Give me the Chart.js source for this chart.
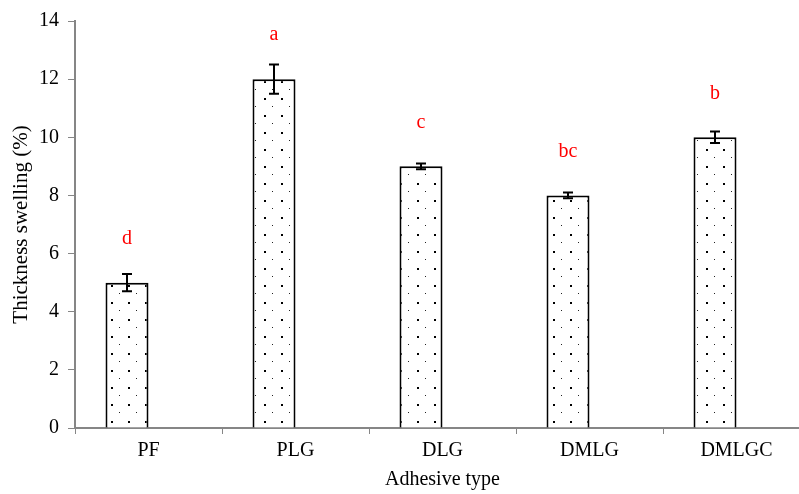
<!DOCTYPE html>
<html>
<head>
<meta charset="utf-8">
<script src="https://cdn.jsdelivr.net/npm/chart.js@4/dist/chart.umd.min.js"></script>
<style>
    html, body { margin: 0; padding: 0; background: #fff; overflow: hidden; }
    #wrap { width: 810px; height: 494px; }
</style>
</head>
<body>
<div id="wrap"><canvas id="swellingChart" width="810" height="494"></canvas></div>
<script>
// Thickness swelling by adhesive type
const categories = ['PF', 'PLG', 'DLG', 'DMLG', 'DMLGC'];
const swelling = [5, 12, 9, 8, 10];
const swellingErr = [0.3, 0.5, 0.1, 0.1, 0.2];
const groupLetters = ['d', 'a', 'c', 'bc', 'b'];
const yMin = 0;
const yMax = 14;
const yStep = 2;

const serif = "'Liberation Serif', 'Times New Roman', serif";
const axisGrey = '#868686';

// Dotted fill like the spreadsheet "dotted grid" pattern
function makeDots() {
    const tile = document.createElement('canvas');
    tile.width = 17;
    tile.height = 17;
    const t = tile.getContext('2d');
    t.fillStyle = '#fff';
    t.fillRect(0, 0, 17, 17);
    t.fillStyle = '#000';
    t.fillRect(9, 13, 2, 2);
    t.fillStyle = '#222';
    t.fillRect(0, 4, 1, 1);
    return t.createPattern(tile, 'repeat');
}

const ctx = document.getElementById('swellingChart').getContext('2d');
const dots = makeDots();

// Error bars and significance letters on top of the bars
const errorBars = {
    id: 'errorBars',
    afterDatasetsDraw(chart) {
        const meta = chart.getDatasetMeta(0);
        const y = chart.scales.y;
        const c = chart.ctx;
        c.save();
        c.strokeStyle = '#000';
        c.lineWidth = 2;
        meta.data.forEach((bar, i) => {
            const top = y.getPixelForValue(swelling[i] + swellingErr[i]);
            const bot = y.getPixelForValue(swelling[i] - swellingErr[i]);
            c.beginPath();
            c.moveTo(bar.x, top);
            c.lineTo(bar.x, bot);
            c.moveTo(bar.x - 5, top);
            c.lineTo(bar.x + 5, top);
            c.moveTo(bar.x - 5, bot);
            c.lineTo(bar.x + 5, bot);
            c.stroke();

            c.fillStyle = '#ff0000';
            c.font = '20px ' + serif;
            c.textAlign = 'center';
            c.textBaseline = 'middle';
            c.fillText(groupLetters[i], bar.x, y.getPixelForValue(swelling[i]) - 44);
        });
        c.restore();
    }
};

new Chart(ctx, {
    type: 'bar',
    data: {
        labels: categories,
        datasets: [
            {
                label: 'Thickness swelling',
                data: swelling,
                backgroundColor: dots,
                borderColor: '#000',
                borderWidth: 2,
                categoryPercentage: 0.585,
                barPercentage: 1.0
            },
            {
                // empty second series, keeps the bars left of the category centre
                label: '',
                data: categories.map(() => null),
                categoryPercentage: 0.585,
                barPercentage: 1.0
            }
        ]
    },
    options: {
        responsive: false,
        animation: false,
        layout: { padding: { top: 12, left: 4, right: 0, bottom: 2 } },
        plugins: {
            legend: { display: false },
            tooltip: { enabled: false }
        },
        scales: {
            x: {
                grid: {
                    display: true,
                    drawOnChartArea: false,
                    offset: true,
                    tickLength: 6,
                    color: axisGrey,
                    lineWidth: 1
                },
                border: { color: axisGrey, width: 2 },
                ticks: {
                    color: '#000',
                    font: { family: serif, size: 20 },
                    padding: 5
                },
                title: {
                    display: true,
                    text: 'Adhesive type',
                    color: '#000',
                    font: { family: serif, size: 20 },
                    padding: { top: 0, bottom: 0 }
                },
                afterFit: s => { s.height = 64; }
            },
            y: {
                min: yMin,
                max: yMax,
                grid: {
                    display: true,
                    drawOnChartArea: false,
                    tickLength: 7,
                    color: axisGrey,
                    lineWidth: 1
                },
                border: { color: axisGrey, width: 2 },
                ticks: {
                    stepSize: yStep,
                    color: '#000',
                    font: { family: serif, size: 20 },
                    padding: 9
                },
                title: {
                    display: true,
                    text: 'Thickness swelling (%)',
                    color: '#000',
                    font: { family: serif, size: 21 },
                    padding: { top: 5, bottom: 0 }
                },
                afterFit: s => { s.width = 71; }
            }
        }
    },
    plugins: [errorBars]
});
</script>
</body>
</html>
